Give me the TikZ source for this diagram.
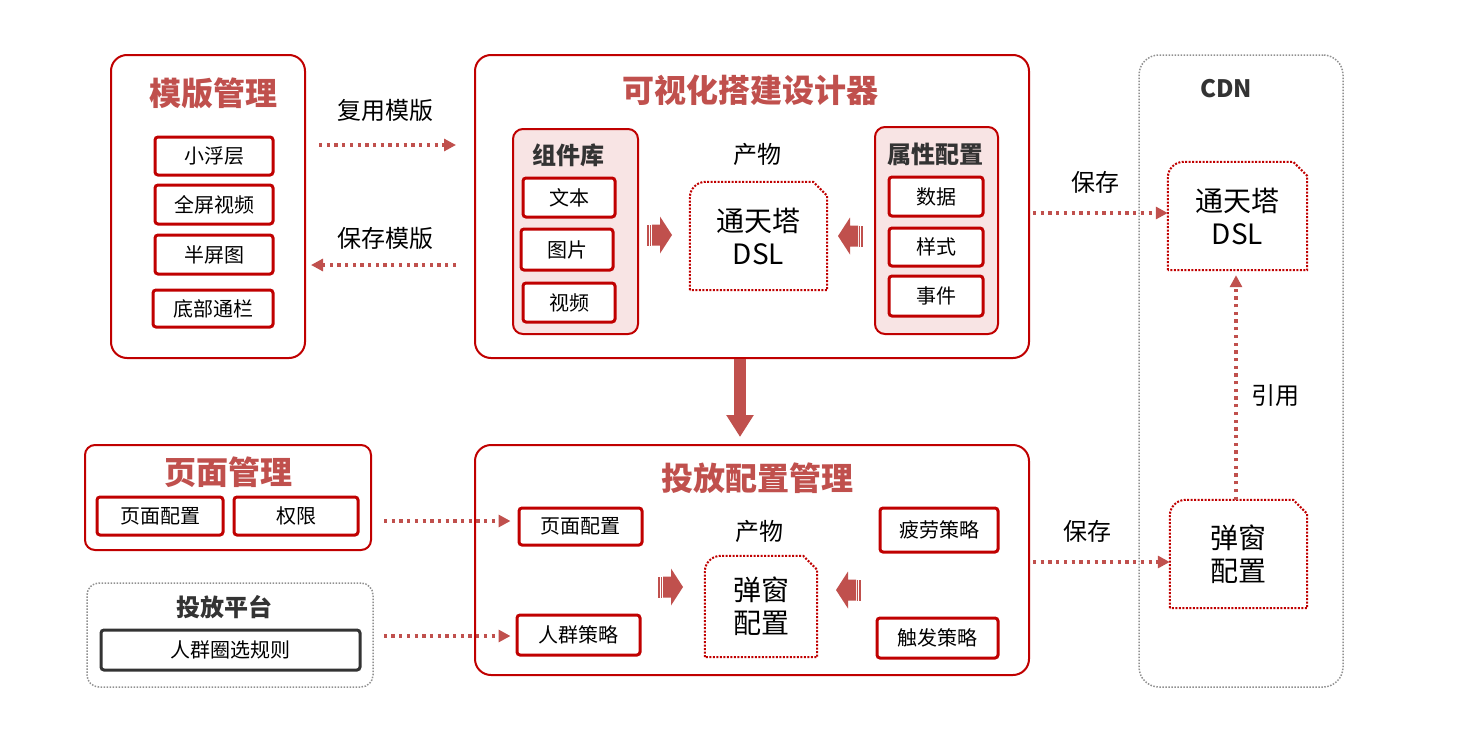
\documentclass[tikz,border=0pt]{standalone}
\usepackage{fontspec}
\setmainfont{Noto Sans CJK SC}
\usetikzlibrary{arrows.meta,calc}
\definecolor{bred}{HTML}{C00000}
\definecolor{tred}{HTML}{C0504D}
\definecolor{pinkf}{HTML}{F8E4E4}
\definecolor{dgray}{HTML}{333333}
\definecolor{lgray}{HTML}{909090}
\tikzset{
  outerbox/.style={draw=bred, line width=2pt, rounded corners=16pt, fill=white, inner sep=0pt},
  panel/.style={draw=bred, line width=2pt, rounded corners=10pt, fill=pinkf, inner sep=0pt},
  item/.style={draw=bred, line width=3pt, rounded corners=3pt, fill=white, inner sep=0pt,
    font=\fontsize{20}{24}\selectfont, text=black},
  darkitem/.style={item, draw=dgray},
  redtitle/.style={font=\fontsize{32}{38}\selectfont\bfseries, text=tred, inner sep=0pt},
  darktitle/.style={font=\fontsize{24}{28}\selectfont\bfseries, text=dgray, inner sep=0pt},
  lbl/.style={font=\fontsize{24}{28}\selectfont, text=black, inner sep=0pt},
  docnode/.style={inner sep=0pt, align=center, font=\fontsize{28}{33}\selectfont, text=black},
  docline/.style={draw=bred, line width=2pt, dash pattern=on 2pt off 1.5pt},
  grayframe/.style={draw=lgray, line width=1.5pt, dash pattern=on 1.5pt off 1.5pt, inner sep=0pt},
  dotarrow/.style={draw=tred, line width=3.3pt, dash pattern=on 3.3pt off 4.4pt,
    -{Triangle[width=12pt,length=12pt]}},
}
\newcommand\docoutline[1]{%
  \draw[docline] (#1.south west) -- ([yshift=-16pt]#1.north west)
    .. controls ([yshift=-7pt]#1.north west) and ([xshift=7pt]#1.north west) ..
    ([xshift=16pt]#1.north west) -- ([xshift=-14pt]#1.north east)
    -- ([yshift=-14pt]#1.north east) -- (#1.south east) -- cycle;}
\newcommand\mychevron{%
  \fill[tred] (0,-10.5) rectangle (1.6,10.5);
  \fill[tred] (2.6,-10.5) rectangle (4.2,10.5);
  \fill[tred] (5,-10.5) -- (13,-10.5) -- (13,-18.5) -- (25,0) -- (13,18.5) -- (13,10.5) -- (5,10.5) -- cycle;}
\begin{document}
\begin{tikzpicture}[x=1pt,y=-1pt]
\useasboundingbox (0,0) rectangle (1484,734);
% ---------- template management
\node[outerbox, minimum width=194pt, minimum height=303pt] (tpl) at (208,206.5) {};
\node[redtitle] (tplT) at (213,93) {模版管理};
\node[item, minimum width=118pt, minimum height=38pt] (i1) at (214,156) {小浮层};
\node[item, minimum width=118pt, minimum height=39pt] (i2) at (214,204.5) {全屏视频};
\node[item, minimum width=118pt, minimum height=39pt] (i3) at (214,254.5) {半屏图};
\node[item, minimum width=120pt, minimum height=37pt] (i4) at (213,308.5) {底部通栏};
% ---------- designer
\node[outerbox, minimum width=554pt, minimum height=303pt] (designer) at (752,206.5) {};
\node[redtitle] (desT) at (750,90) {可视化搭建设计器};
\node[panel, minimum width=125pt, minimum height=205pt] (lib) at (575.5,231.5) {};
\node[darktitle] (libT) at (568,155) {组件库};
\node[item, minimum width=92pt, minimum height=39pt] (t1) at (569,197.5) {文本};
\node[item, minimum width=92pt, minimum height=41pt] (t2) at (567,249.5) {图片};
\node[item, minimum width=92pt, minimum height=39pt] (t3) at (569,302.5) {视频};
\node[lbl] (out1) at (757,154) {产物};
\node[docnode, minimum width=137pt, minimum height=108pt] (dsl1) at (758.5,236) {通天塔\\DSL};
\docoutline{dsl1}
\node[panel, minimum width=123pt, minimum height=207pt] (attr) at (936.5,230.5) {};
\node[darktitle] (attrT) at (935,154) {属性配置};
\node[item, minimum width=94pt, minimum height=39pt] (a1) at (936,196.5) {数据};
\node[item, minimum width=94pt, minimum height=38pt] (a2) at (936,247) {样式};
\node[item, minimum width=94pt, minimum height=40pt] (a3) at (936,296) {事件};
\begin{scope}[shift={(647,235)}]\mychevron\end{scope}
\begin{scope}[shift={(863,236)}, xscale=-1]\mychevron\end{scope}
% ---------- delivery config
\node[outerbox, minimum width=554pt, minimum height=230pt] (deliver) at (752,560) {};
\node[redtitle] (delT) at (757,478) {投放配置管理};
\node[item, minimum width=123pt, minimum height=37pt] (d1) at (580.5,526.5) {页面配置};
\node[item, minimum width=123pt, minimum height=40pt] (d2) at (578.5,635) {人群策略};
\node[lbl] (out2) at (759,531) {产物};
\node[docnode, minimum width=112pt, minimum height=101pt] (pop1) at (761,606.5) {弹窗\\配置};
\docoutline{pop1}
\node[item, minimum width=118pt, minimum height=44pt] (d3) at (939,530) {疲劳策略};
\node[item, minimum width=121pt, minimum height=40pt] (d4) at (937.5,638) {触发策略};
\begin{scope}[shift={(658,587)}]\mychevron\end{scope}
\begin{scope}[shift={(861,590)}, xscale=-1]\mychevron\end{scope}
% ---------- page management
\node[outerbox, rounded corners=10pt, minimum width=286pt, minimum height=105pt] (page) at (228,497.5) {};
\node[redtitle] (pageT) at (228,472) {页面管理};
\node[item, minimum width=126pt, minimum height=38pt] (p1) at (160,516) {页面配置};
\node[item, minimum width=124pt, minimum height=38pt] (p2) at (296,516) {权限};
% ---------- platform
\node[grayframe, rounded corners=12pt, minimum width=286pt, minimum height=104pt] (plat) at (230,635) {};
\node[darktitle] (platT) at (224,607) {投放平台};
\node[darkitem, minimum width=259pt, minimum height=40pt] (r1) at (230.5,650) {人群圈选规则};
% ---------- CDN
\node[grayframe, rounded corners=20pt, minimum width=204pt, minimum height=632pt] (cdn) at (1241,371) {};
\node[darktitle] (cdnT) at (1226,89) {CDN};
\node[docnode, minimum width=139pt, minimum height=108pt] (dsl2) at (1237.5,216) {通天塔\\DSL};
\docoutline{dsl2}
\node[docnode, minimum width=137pt, minimum height=108pt] (pop2) at (1238.5,554) {弹窗\\配置};
\docoutline{pop2}
% ---------- labels
\node[lbl] (l1) at (385,110) {复用模版};
\node[lbl] (l2) at (385,238) {保存模版};
\node[lbl] (l3) at (1095,182) {保存};
\node[lbl] (l4) at (1087,531) {保存};
\node[lbl] (l5) at (1275,396) {引用};
% ---------- connectors
\coordinate (y145) at (0,145);
\coordinate (y265) at (0,265);
\coordinate (y213) at (0,213);
\coordinate (y562) at (0,562);
\coordinate (y521) at (0,521);
\coordinate (y636) at (0,636);
\coordinate (x740) at (740,0);
\coordinate (x1236) at (1236,0);
\draw[dotarrow, shorten <=13pt, shorten >=18pt] (tpl.east |- y145) -- (designer.west |- y145);
\draw[dotarrow, shorten <=18pt, shorten >=5pt] (designer.west |- y265) -- (tpl.east |- y265);
\draw[dotarrow, shorten <=3pt] (designer.east |- y213) -- (dsl2.west |- y213);
\draw[dotarrow, shorten <=3pt] (deliver.east |- y562) -- (pop2.west |- y562);
\draw[dotarrow, shorten >=5pt] (pop2.north -| x1236) -- (dsl2.south -| x1236);
\draw[dotarrow, shorten <=12pt, shorten >=7pt] (page.east |- y521) -- (d1.west |- y521);
\draw[dotarrow, shorten <=10pt, shorten >=5pt] (plat.east |- y636) -- (d2.west |- y636);
\draw[draw=tred, line width=12pt, -{Triangle[width=26pt,length=22pt]}, shorten >=7pt]
  (designer.south -| x740) -- (deliver.north -| x740);
\end{tikzpicture}
\end{document}
